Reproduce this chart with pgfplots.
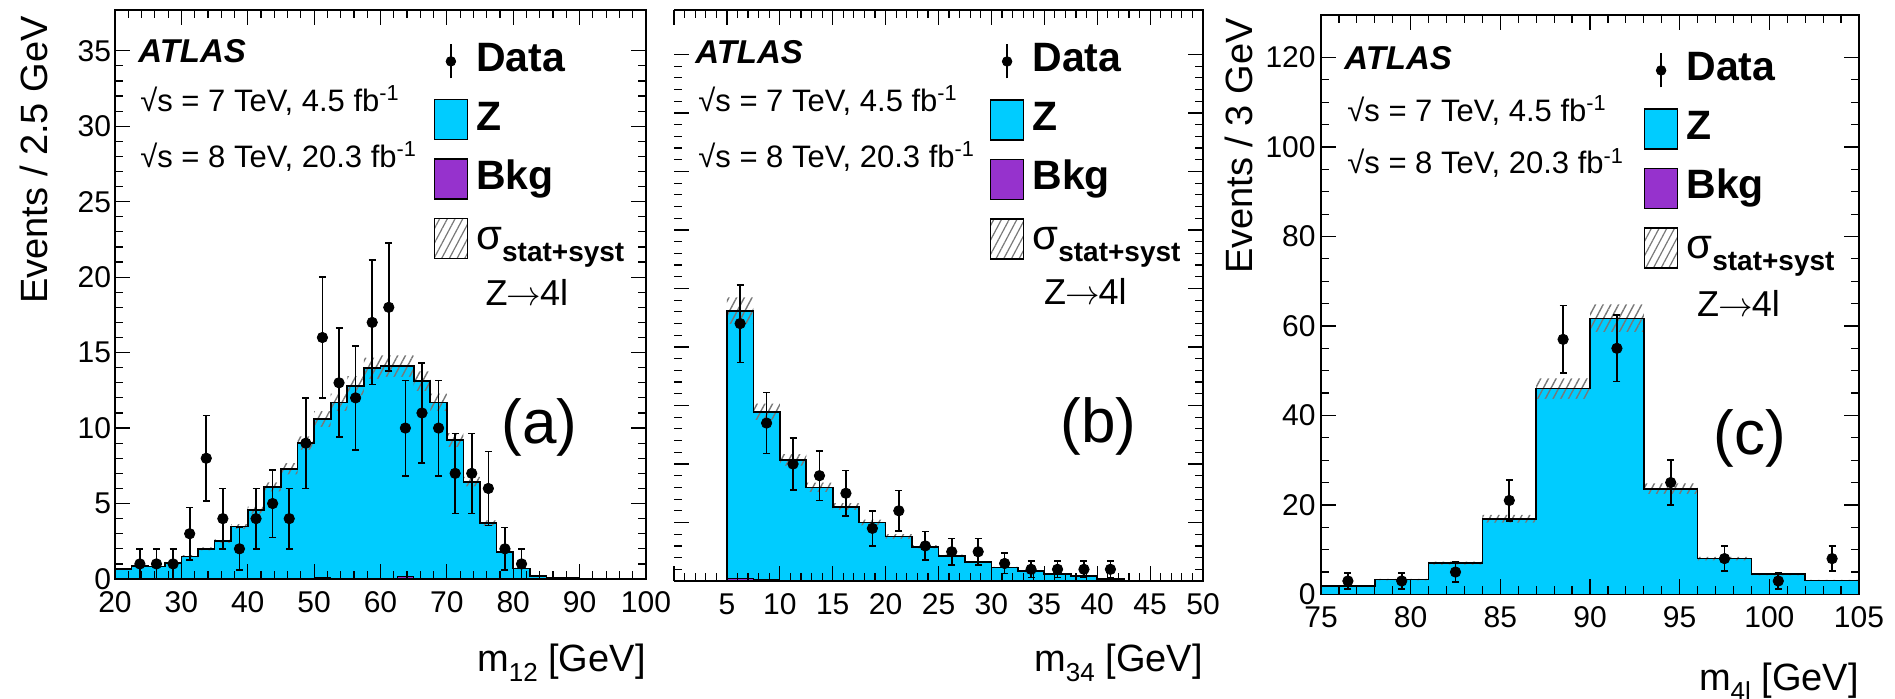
\documentclass[border=0pt]{standalone}
\usepackage{fontspec}
\setmainfont{Liberation Sans}
\usepackage{pgfplots}
\usepackage{pgfplotstable}
\pgfplotsset{compat=1.18}
\usetikzlibrary{patterns.meta}
\definecolor{zcyan}{RGB}{0,204,255}
\definecolor{bkgpurple}{RGB}{150,50,205}
\definecolor{hatchgray}{RGB}{120,120,120}
\newcommand{\fs}[1]{\fontsize{#1}{#1}\selectfont}

% ---------------- data ----------------
\pgfplotstableread{
x mc lo hi
20 0.64 0.61 0.67
22.5 0.86 0.82 0.90
25 0.82 0.78 0.86
27.5 1.08 1.03 1.13
30 1.50 1.43 1.58
32.5 2.00 1.90 2.10
35 2.50 2.38 2.63
37.5 3.47 3.30 3.64
40 4.57 4.34 4.80
42.5 6.10 5.80 6.41
45 7.30 6.94 7.67
47.5 9.00 8.55 9.45
50 10.60 10.07 11.13
52.5 11.70 11.12 12.29
55 12.80 12.16 13.44
57.5 13.96 13.26 14.66
60 14.10 13.40 14.81
62.5 14.10 13.40 14.81
65 13.10 12.45 13.76
67.5 11.70 11.12 12.29
70 9.20 8.74 9.66
72.5 6.45 6.13 6.77
75 3.70 3.52 3.89
77.5 1.80 1.71 1.89
80 0.70 0.67 0.74
82.5 0.20 0.19 0.21
85 0.10 0.095 0.105
87.5 0.05 0.05 0.05
90 0 0 0
92.5 0 0 0
95 0 0 0
97.5 0 0 0
100 0 0 0
}\mcA
\pgfplotstableread{
x bkg
20 0.02
45 0.02
47.5 0.06
50 0.08
52.5 0.04
62.5 0.15
65 0.03
82.5 0
100 0
}\bkgA
\pgfplotstableread{
x y e
23.75 1 1
26.25 1 1
28.75 1 1
31.25 3 1.73
33.75 8 2.83
36.25 4 2
38.75 2 1.41
41.25 4 2
43.75 5 2.24
46.25 4 2
48.75 9 3
51.25 16 4
53.75 13 3.61
56.25 12 3.46
58.75 17 4.12
61.25 18 4.24
63.75 10 3.16
66.25 11 3.32
68.75 10 3.16
71.25 7 2.65
73.75 7 2.65
76.25 6 2.45
78.75 2 1.41
81.25 1 1
}\dataA

\pgfplotstableread{
x mc lo hi
0 0 0 0
2.5 0 0 0
5 46.2 43.9 48.5
7.5 28.9 27.5 30.3
10 20.7 19.7 21.7
12.5 16.0 15.2 16.8
15 12.7 12.1 13.3
17.5 10.0 9.5 10.5
20 7.6 7.2 8.0
22.5 5.86 5.57 6.15
25 4.3 4.09 4.52
27.5 3.2 3.04 3.36
30 2.3 2.19 2.42
32.5 1.7 1.62 1.79
35 1.15 1.09 1.21
37.5 0.8 0.76 0.84
40 0.4 0.38 0.42
42.5 0.1 0.095 0.105
45 0 0 0
47.5 0 0 0
50 0 0 0
}\mcB
\pgfplotstableread{
x bkg
0 0
5 0.4
7.5 0.25
10 0.15
12.5 0.1
15 0.05
40 0
50 0
}\bkgB
\pgfplotstableread{
x y e
6.25 44 6.63
8.75 27 5.2
11.25 20 4.47
13.75 18 4.24
16.25 15 3.87
18.75 9 3
21.25 12 3.46
23.75 6 2.45
26.25 5 2.24
28.75 5 2.24
31.25 3 1.73
33.75 2 1.41
36.25 2 1.41
38.75 2 1.41
41.25 2 1.41
}\dataB

\pgfplotstableread{
x mc lo hi
75 1.9 1.81 2.0
78 3.3 3.14 3.47
81 7.0 6.65 7.35
84 16.9 16.06 17.75
87 46.0 43.7 48.3
90 61.7 58.6 64.8
93 23.6 22.4 24.8
96 8.0 7.6 8.4
99 4.5 4.28 4.73
102 3.1 2.95 3.26
105 3.1 2.95 3.26
}\mcC
\pgfplotstableread{
x y e
76.5 3 1.73
79.5 3 1.73
82.5 5 2.24
85.5 21 4.58
88.5 57 7.55
91.5 55 7.42
94.5 25 5
97.5 8 2.83
100.5 3 1.73
103.5 8 2.83
}\dataC

\pgfplotsset{
  atlas/.style={
    scale only axis, axis on top, clip=false,
    tick align=inside,
    major tick length=7.5pt, minor tick length=4pt,
    every tick/.style={black, line width=0.6pt},
    axis line style={line width=0.7pt},
    ticklabel style={font=\fs{15}},
    /pgf/number format/assume math mode=true,
    xticklabel style={inner sep=0pt, yshift=-6pt},
    yticklabel style={inner sep=0pt, xshift=-1.8pt},
    legend style={draw=none, fill=none, inner sep=0pt, outer sep=0pt,
      font=\fs{20.5}\bfseries, row sep=9pt, anchor=north west,
      nodes={inner sep=0pt, text height=15pt, text depth=4.5pt},
      /tikz/column sep=4pt},
    legend cell align=left,
  },
  hatchup/.style={draw=none, const plot mark left, forget plot,
    pattern={Lines[angle=62,distance=3.4pt,line width=0.7pt]}, pattern color=hatchgray},
  cyanfill/.style={fill=zcyan, draw=none, const plot mark left, forget plot},
  outline/.style={draw=black, line width=0.85pt, const plot mark left, forget plot},
  bkgh/.style={fill=bkgpurple, draw=black, line width=0.4pt, const plot mark left, forget plot},
  datapts/.style={only marks, mark=*, mark size=2.6pt, black, forget plot,
    error bars/.cd, y dir=both, y explicit,
    error bar style={line width=0.85pt, black},
    error mark options={rotate=90, black, line width=0.85pt, mark size=1.75pt}},
  datalegend/.style={legend image code/.code={
      \draw[black, line width=0.85pt] (8.25pt,-8.5pt) -- (8.25pt,8.5pt);
      \fill[black] (8.25pt,0pt) circle (2.4pt);}},
  boxlegend/.style={legend image code/.code={
      \draw[black, line width=0.8pt, fill=#1] (0pt,-10pt) rectangle (16.5pt,10pt);}},
  hatchlegend/.style={legend image code/.code={
      \draw[black, line width=0.8pt, pattern={Lines[angle=62,distance=3.4pt,line width=0.6pt]}, pattern color=hatchgray] (0pt,-10pt) rectangle (16.5pt,10pt);}},
}
\newcommand{\sigmaentry}{{\fs{21}\mdseries σ}\raisebox{-6pt}{\fs{14}\bfseries stat+syst}}
\newcommand{\zfourl}{Z\kern-0.5pt$\rightarrow$\kern-0.5pt4l}
\newcommand{\legendset}{%
  \addlegendimage{datalegend}\addlegendentry{Data}
  \addlegendimage{boxlegend=zcyan}\addlegendentry{Z}
  \addlegendimage{boxlegend=bkgpurple}\addlegendentry{Bkg}
  \addlegendimage{hatchlegend}\addlegendentry{\sigmaentry}}
% histogram with hatched band: hatch up to hi, cyan restored below lo, outline at central value
\newcommand{\histoband}[1]{%
  \addplot[cyanfill] table[x=x,y=mc] {#1} \closedcycle;
  \addplot[hatchup] table[x=x,y=hi] {#1} \closedcycle;
  \addplot[cyanfill] table[x=x,y=lo] {#1} \closedcycle;
  \addplot[outline] table[x=x,y=mc] {#1};}

\begin{document}
\begin{tikzpicture}[x=1pt,y=1pt]
\path[use as bounding box] (0,0) rectangle (947.5,349);

% ---------------- panel (a) ----------------
\begin{axis}[atlas, at={(57.5pt,59.5pt)}, anchor=south west,
  width=265.5pt, height=284.5pt,
  xmin=20, xmax=100, ymin=0, ymax=37.7,
  xtick={20,30,...,100}, minor x tick num=4,
  ytick={0,5,...,35}, minor y tick num=4,
  xlabel={m\raisebox{-5pt}{\fs{13}12} [GeV]},
  xlabel style={at={(axis description cs:1,-0.1634)}, anchor=base east, font=\fs{19}, inner sep=0pt},
  legend style={at={(axis description cs:0.600,0.944)}},
]
\histoband{\mcA}
\addplot[bkgh] table[x=x,y=bkg] {\bkgA} \closedcycle;
\addplot[datapts] table[x=x,y=y,y error=e] {\dataA};
\legendset
\node[anchor=base west, font=\fs{16.5}\bfseries\itshape, inner sep=0pt] at (axis description cs:0.0433,0.908) {ATLAS};
\node[anchor=base west, font=\fs{15.5}, inner sep=0pt] at (axis description cs:0.047,0.8225) {√s = 7 TeV, 4.5 fb\textsuperscript{-1}};
\node[anchor=base west, font=\fs{15.5}, inner sep=0pt] at (axis description cs:0.047,0.724) {√s = 8 TeV, 20.3 fb\textsuperscript{-1}};
\node[anchor=base west, font=\fs{18}, inner sep=0pt] at (axis description cs:0.697,0.4815) {\zfourl};
\node[anchor=base west, font=\fs{31}, inner sep=0pt] at (axis description cs:0.727,0.239) {(a)};
\end{axis}

% ---------------- panel (b) ----------------
\begin{axis}[atlas, at={(337pt,58.5pt)}, anchor=south west,
  width=264.5pt, height=285.5pt,
  axis line style={draw=none},
  xmin=0, xmax=50, ymin=0, ymax=97.6,
  xtick={0,5,...,50}, xticklabels={,5,10,15,20,25,30,35,40,45,50}, minor x tick num=4,
  ytick={0,10,...,90}, yticklabels={}, minor y tick num=4,
  xlabel={m\raisebox{-5pt}{\fs{13}34} [GeV]},
  xlabel style={at={(axis description cs:1,-0.159)}, anchor=base east, font=\fs{19}, inner sep=0pt},
  legend style={at={(axis description cs:0.597,0.944)}},
]
\histoband{\mcB}
\addplot[bkgh] table[x=x,y=bkg] {\bkgB} \closedcycle;
\addplot[datapts] table[x=x,y=y,y error=e] {\dataB};
\legendset
\draw[black, line width=0.7pt] (rel axis cs:0,1) -- (rel axis cs:1,1) -- (rel axis cs:1,0) -- (rel axis cs:0,0);
\node[anchor=base west, font=\fs{16.5}\bfseries\itshape, inner sep=0pt] at (axis description cs:0.0397,0.9068) {ATLAS};
\node[anchor=base west, font=\fs{15.5}, inner sep=0pt] at (axis description cs:0.0454,0.823) {√s = 7 TeV, 4.5 fb\textsuperscript{-1}};
\node[anchor=base west, font=\fs{15.5}, inner sep=0pt] at (axis description cs:0.0454,0.725) {√s = 8 TeV, 20.3 fb\textsuperscript{-1}};
\node[anchor=base west, font=\fs{18}, inner sep=0pt] at (axis description cs:0.699,0.4834) {\zfourl};
\node[anchor=base west, font=\fs{31}, inner sep=0pt] at (axis description cs:0.73,0.2417) {(b)};
\end{axis}

% ---------------- panel (c) ----------------
\begin{axis}[atlas, at={(660.5pt,51.8pt)}, anchor=south west,
  width=269pt, height=289.7pt,
  xmin=75, xmax=105, ymin=0, ymax=129.5,
  xtick={75,80,...,105}, minor x tick num=4,
  ytick={0,20,...,120}, minor y tick num=3,
  yticklabel style={xshift=-0.7pt},
  xlabel={m\raisebox{-5pt}{\fs{13}4l} [GeV]},
  xlabel style={at={(axis description cs:1,-0.165)}, anchor=base east, font=\fs{19}, inner sep=0pt},
  legend style={at={(axis description cs:0.600,0.938)}},
]
\histoband{\mcC}
\addplot[datapts] table[x=x,y=y,y error=e] {\dataC};
\legendset
\node[anchor=base west, font=\fs{16.5}\bfseries\itshape, inner sep=0pt] at (axis description cs:0.0428,0.9068) {ATLAS};
\node[anchor=base west, font=\fs{15.5}, inner sep=0pt] at (axis description cs:0.0483,0.817) {√s = 7 TeV, 4.5 fb\textsuperscript{-1}};
\node[anchor=base west, font=\fs{15.5}, inner sep=0pt] at (axis description cs:0.0483,0.7263) {√s = 8 TeV, 20.3 fb\textsuperscript{-1}};
\node[anchor=base west, font=\fs{18}, inner sep=0pt] at (axis description cs:0.6985,0.4805) {\zfourl};
\node[anchor=base west, font=\fs{31}, inner sep=0pt] at (axis description cs:0.7286,0.2423) {(c)};
\end{axis}

% ---------------- y titles ----------------
\node[rotate=90, anchor=base east, font=\fs{19}, inner sep=0pt] at (23.85,341) {Events / 2.5 GeV};
\node[rotate=90, anchor=base east, font=\fs{19}, inner sep=0pt] at (626.15,340) {Events / 3 GeV};
\end{tikzpicture}
\end{document}
